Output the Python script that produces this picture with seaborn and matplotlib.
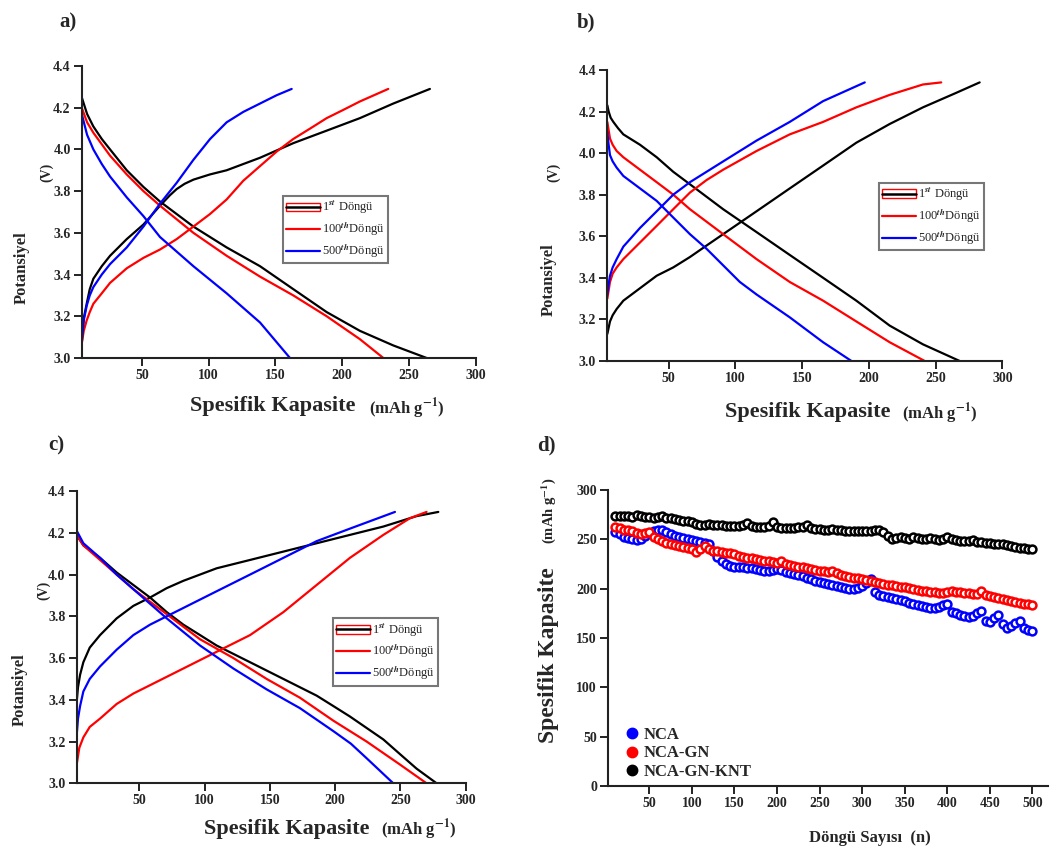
import numpy as np
import pandas as pd
import matplotlib
matplotlib.use("Agg")
import matplotlib.pyplot as plt
from matplotlib.lines import Line2D
from matplotlib.patches import Rectangle
import seaborn as sns

# ---- panel a) capacity / voltage curves ----
a_blk_dis_x = [5, 9, 13.7, 20, 26.2, 38.7, 51.2, 63.6, 88.6, 113.5, 138.5, 163.4, 188.4, 213.3, 238.3, 263.2]
a_blk_dis_y = [4.25, 4.17, 4.11, 4.05, 4.00, 3.90, 3.82, 3.75, 3.63, 3.53, 3.44, 3.33, 3.22, 3.13, 3.06, 3.00]
a_red_dis_x = [5, 9, 13.7, 26.2, 38.7, 51.2, 63.6, 88.6, 113.5, 138.5, 163.4, 188.4, 213.3, 230.8]
a_red_dis_y = [4.20, 4.13, 4.08, 3.97, 3.88, 3.80, 3.73, 3.60, 3.49, 3.39, 3.30, 3.20, 3.09, 3.00]
a_blu_dis_x = [5, 9, 13.7, 20, 26.2, 38.7, 51.2, 63.6, 88.6, 113.5, 138.5, 160.9]
a_blu_dis_y = [4.17, 4.07, 4.00, 3.93, 3.87, 3.77, 3.68, 3.58, 3.44, 3.31, 3.17, 3.00]
a_blk_chg_x = [5, 6.5, 8.7, 11, 13.7, 20, 26.2, 38.7, 51.2, 63.6, 71, 76.1, 82, 88.6, 101, 113.5, 138.5, 163.4, 188.4, 213.3, 238.3, 265.7]
a_blk_chg_y = [3.09, 3.19, 3.26, 3.33, 3.38, 3.44, 3.49, 3.57, 3.64, 3.73, 3.78, 3.81, 3.835, 3.855, 3.88, 3.90, 3.96, 4.03, 4.09, 4.15, 4.22, 4.29]
a_red_chg_x = [5, 6.5, 8.7, 11, 13.7, 20, 26.2, 38.7, 51.2, 63.6, 76.1, 88.6, 101, 113.5, 126, 138.5, 151, 163.4, 176, 188.4, 201, 213.3, 234.5]
a_red_chg_y = [3.07, 3.13, 3.18, 3.22, 3.26, 3.31, 3.36, 3.43, 3.48, 3.52, 3.57, 3.63, 3.69, 3.76, 3.85, 3.92, 3.99, 4.05, 4.10, 4.15, 4.19, 4.23, 4.29]
a_blu_chg_x = [5, 6.5, 8.7, 11, 13.7, 20, 26.2, 38.7, 51.2, 63.6, 76.1, 88.6, 101.1, 113.5, 126, 138.5, 151, 162.2]
a_blu_chg_y = [3.07, 3.18, 3.25, 3.30, 3.34, 3.40, 3.45, 3.53, 3.63, 3.74, 3.84, 3.95, 4.05, 4.13, 4.18, 4.22, 4.26, 4.29]

# ---- panel b) ----
b_blk_dis_x = [4, 5, 6.5, 8.5, 12, 16, 28.5, 41, 53.4, 65.9, 90.8, 115.8, 140.7, 165.7, 190.6, 215.6, 240.5, 268]
b_blk_dis_y = [4.23, 4.20, 4.17, 4.15, 4.12, 4.09, 4.04, 3.98, 3.91, 3.85, 3.73, 3.62, 3.51, 3.40, 3.29, 3.17, 3.08, 3.00]
b_red_dis_x = [4, 5, 6, 8, 11, 16, 28.5, 41, 53.4, 65.9, 90.8, 115.8, 140.7, 165.7, 190.6, 215.6, 241.8]
b_red_dis_y = [4.15, 4.11, 4.07, 4.04, 4.01, 3.98, 3.92, 3.86, 3.80, 3.73, 3.61, 3.49, 3.38, 3.29, 3.19, 3.09, 3.00]
b_blu_dis_x = [4, 5, 6, 8, 11, 16, 28.5, 41, 53.4, 65.9, 78.3, 90.8, 103.3, 115.8, 140.7, 165.7, 186.9]
b_blu_dis_y = [4.10, 4.04, 3.99, 3.96, 3.93, 3.89, 3.83, 3.77, 3.69, 3.61, 3.54, 3.46, 3.38, 3.32, 3.21, 3.09, 3.00]
b_blk_chg_x = [4, 5, 6, 8, 11, 16, 28.5, 41, 53.4, 65.9, 78.3, 90.8, 115.8, 140.7, 165.7, 190.6, 215.6, 240.5, 265.5, 283]
b_blk_chg_y = [3.13, 3.16, 3.19, 3.22, 3.25, 3.29, 3.35, 3.41, 3.45, 3.50, 3.555, 3.61, 3.72, 3.83, 3.94, 4.05, 4.14, 4.22, 4.29, 4.34]
b_red_chg_x = [4, 5, 6, 8, 11, 16, 28.5, 41, 53.4, 65.9, 78.3, 90.8, 115.8, 140.7, 165.7, 190.6, 215.6, 240.5, 254.2]
b_red_chg_y = [3.30, 3.34, 3.38, 3.42, 3.45, 3.49, 3.57, 3.65, 3.73, 3.81, 3.87, 3.92, 4.01, 4.09, 4.15, 4.22, 4.28, 4.33, 4.34]
b_blu_chg_x = [4, 5, 6, 8, 11, 16, 28.5, 41, 53.4, 65.9, 90.8, 115.8, 140.7, 165.7, 196.9]
b_blu_chg_y = [3.32, 3.37, 3.41, 3.45, 3.49, 3.55, 3.64, 3.72, 3.80, 3.86, 3.96, 4.06, 4.15, 4.25, 4.34]

# ---- panel c) ----
c_blk_dis_x = [2, 7.1, 19.9, 32.6, 45.4, 58.2, 71, 83.7, 96.5, 109.2, 134.8, 160.3, 185.8, 198.6, 211.3, 224.1, 236.9, 249.6, 262.4, 277.7]
c_blk_dis_y = [4.19, 4.14, 4.08, 4.01, 3.95, 3.89, 3.82, 3.76, 3.71, 3.66, 3.58, 3.50, 3.42, 3.37, 3.32, 3.265, 3.21, 3.14, 3.07, 3.00]
c_red_dis_x = [2, 7.1, 19.9, 32.6, 45.4, 71, 96.5, 122, 147.5, 173, 198.6, 224.1, 249.6, 270]
c_red_dis_y = [4.19, 4.14, 4.07, 4.00, 3.93, 3.81, 3.69, 3.60, 3.50, 3.41, 3.30, 3.20, 3.09, 3.00]
c_blu_dis_x = [2, 7.1, 19.9, 32.6, 45.4, 71, 96.5, 122, 147.5, 173, 198.6, 212, 224.1, 244.5]
c_blu_dis_y = [4.21, 4.15, 4.08, 4.00, 3.93, 3.79, 3.66, 3.55, 3.45, 3.36, 3.25, 3.19, 3.12, 3.00]
c_blk_chg_x = [2, 3, 4.6, 7.1, 12, 19.9, 32.6, 45.4, 58.2, 71, 83.7, 109.2, 134.8, 160.3, 185.8, 211.3, 236.9, 262.4, 279]
c_blk_chg_y = [3.39, 3.46, 3.52, 3.58, 3.65, 3.71, 3.79, 3.85, 3.89, 3.935, 3.97, 4.03, 4.07, 4.11, 4.15, 4.19, 4.23, 4.28, 4.30]
c_red_chg_x = [2, 4, 7.1, 12, 19.9, 32.6, 45.4, 58.2, 83.7, 109.2, 134.8, 160.3, 185.8, 211.3, 236.9, 257.3, 270]
c_red_chg_y = [3.09, 3.17, 3.22, 3.27, 3.31, 3.38, 3.43, 3.47, 3.55, 3.63, 3.71, 3.82, 3.95, 4.08, 4.19, 4.27, 4.30]
c_blu_chg_x = [2, 3, 4.6, 7.1, 12, 19.9, 32.6, 45.4, 58.2, 83.7, 109.2, 134.8, 160.3, 185.8, 211.3, 245.8]
c_blu_chg_y = [3.23, 3.31, 3.37, 3.44, 3.50, 3.56, 3.64, 3.71, 3.76, 3.84, 3.92, 4.00, 4.08, 4.16, 4.22, 4.30]

cycle_colors = {"1st": "black", "100th": "red", "500th": "blue"}

# ---- panel d) cycling ----
cycles = np.arange(10, 501, 5)
nca = [257, 255, 252, 251, 250, 249, 250, 253, 256, 258,
       259, 260, 257, 255, 253, 252, 251, 250, 249, 248,
       247, 246, 245, 238, 232, 228, 225, 223, 222, 222,
       222, 221, 221, 220, 219, 218, 218, 219, 220, 219,
       217, 216, 215, 214, 213, 211, 210, 208, 207, 206,
       205, 204, 203, 202, 201, 200, 200, 201, 203, 206,
       210, 197, 194, 193, 192, 191, 190, 189, 188, 186,
       184, 183, 182, 181, 180, 180, 181, 183, 185, 176,
       175, 173, 172, 171, 172, 175, 177, 167, 166, 170,
       173, 164, 160, 162, 165, 167, 160, 158, 157]
nca_gn = [263, 262, 260, 259, 258, 256, 255, 256, 257, 252,
          250, 248, 246, 245, 244, 243, 242, 241, 240, 237,
          240, 243, 240, 238, 238, 237, 236, 236, 235, 233,
          232, 231, 231, 230, 229, 228, 228, 227, 226, 228,
          225, 224, 223, 222, 222, 221, 220, 219, 218, 218,
          217, 218, 216, 214, 213, 212, 211, 211, 210, 209,
          208, 207, 206, 205, 204, 204, 203, 202, 202, 201,
          200, 199, 198, 198, 197, 197, 196, 196, 197, 198,
          197, 197, 196, 196, 195, 195, 198, 194, 193, 192,
          191, 190, 189, 188, 187, 186, 185, 184, 183]
nca_gn_knt = [274, 274, 274, 274, 273, 275, 274, 273, 273, 272,
              273, 274, 272, 272, 271, 270, 269, 269, 268, 266,
              265, 265, 266, 265, 265, 265, 264, 264, 264, 264,
              265, 267, 264, 263, 263, 263, 264, 268, 263, 262,
              262, 262, 262, 263, 263, 265, 262, 261, 261, 260,
              259, 261, 259, 259, 258, 258, 258, 258, 258, 258,
              258, 259, 260, 257, 253, 250, 251, 252, 251, 250,
              252, 251, 250, 250, 251, 250, 249, 250, 252, 250,
              249, 248, 248, 248, 249, 247, 247, 246, 246, 245,
              245, 245, 244, 243, 242, 241, 241, 240, 240]

sns.set_style("white")
plt.rcParams["font.family"] = ["Liberation Serif", "DejaVu Serif"]
plt.rcParams["font.weight"] = "bold"
plt.rcParams["mathtext.fontset"] = "stix"

fig = plt.figure(figsize=(10.52, 8.57), dpi=100)


def to_frame(curves):
    rows = []
    for name, branch, xs, ys in curves:
        for xv, yv in zip(xs, ys):
            rows.append({"cap": xv, "volt": yv, "cycle": name, "branch": name + branch})
    return pd.DataFrame(rows)


def style_axes(ax):
    for s in ["top", "right"]:
        ax.spines[s].set_visible(False)
    for s in ["left", "bottom"]:
        ax.spines[s].set_linewidth(1.5)
        ax.spines[s].set_color("#222222")
    ax.tick_params(direction="out", length=6, width=1.4, labelsize=10, color="#222222",
                   left=True, bottom=True, pad=2)
    for lab in ax.get_xticklabels() + ax.get_yticklabels():
        lab.set_fontweight("bold")
    ax.set_xlabel("")
    ax.set_ylabel("")


def voltage_panel(rect, curves, xlim, leg_anchor, ylab_pos, vlab_pos, xlab_pos, unit_pos):
    ax = fig.add_axes(rect)
    df = to_frame(curves)
    sns.lineplot(data=df, x="cap", y="volt", hue="cycle", units="branch", estimator=None,
                 sort=False, palette=cycle_colors, linewidth=1.6, legend=False, ax=ax)
    ax.set_xlim(*xlim)
    ax.set_ylim(3.0, 4.4)
    ax.set_xticks([50, 100, 150, 200, 250, 300])
    ax.set_yticks([3.0, 3.2, 3.4, 3.6, 3.8, 4.0, 4.2, 4.4])
    ax.set_yticklabels(["3.0", "3.2", "3.4", "3.6", "3.8", "4.0", "4.2", "4.4"])
    style_axes(ax)
    h1 = (Rectangle((0, 0), 1, 1, fill=False, edgecolor="red", lw=1.0),
          Line2D([], [], color="black", lw=1.8))
    h2 = Line2D([], [], color="red", lw=1.6)
    h3 = Line2D([], [], color="blue", lw=1.6)
    leg = ax.legend([h1, h2, h3], ["1$^{st}$ Döngü", "100$^{th}$Döngü", "500$^{th}$Döngü"],
                    loc="upper left", bbox_to_anchor=leg_anchor, frameon=True, fancybox=False,
                    prop={"size": 9, "weight": "normal"}, handlelength=2.7, handletextpad=0.2,
                    borderpad=0.25, labelspacing=0.25, borderaxespad=0)
    leg.get_frame().set_edgecolor("#555555")
    leg.get_frame().set_linewidth(1.5)
    ax.text(ylab_pos[0], ylab_pos[1], "Potansiyel", rotation=90, transform=ax.transAxes,
            ha="center", va="center", fontsize=12, fontweight="bold")
    ax.text(vlab_pos[0], vlab_pos[1], "(V)", rotation=90, transform=ax.transAxes,
            ha="center", va="center", fontsize=10, fontweight="bold")
    ax.text(xlab_pos[0], xlab_pos[1], "Spesifik Kapasite", transform=ax.transAxes,
            ha="center", va="center", fontsize=16, fontweight="bold")
    ax.text(unit_pos[0], unit_pos[1], "(mAh g$^{-1}$)", transform=ax.transAxes,
            ha="center", va="center", fontsize=12, fontweight="bold")
    return ax


voltage_panel([0.0777, 0.5823, 0.3745, 0.3407],
              [("1st", "d", a_blk_dis_x, a_blk_dis_y), ("1st", "c", a_blk_chg_x, a_blk_chg_y),
               ("100th", "d", a_red_dis_x, a_red_dis_y), ("100th", "c", a_red_chg_x, a_red_chg_y),
               ("500th", "d", a_blu_dis_x, a_blu_dis_y), ("500th", "c", a_blu_chg_x, a_blu_chg_y)],
              (5, 300), (0.511, 0.555), (-0.152, 0.308), (-0.088, 0.637), (0.486, -0.164), (0.826, -0.175))

voltage_panel([0.5773, 0.5788, 0.3755, 0.3396],
              [("1st", "d", b_blk_dis_x, b_blk_dis_y), ("1st", "c", b_blk_chg_x, b_blk_chg_y),
               ("100th", "d", b_red_dis_x, b_red_dis_y), ("100th", "c", b_red_chg_x, b_red_chg_y),
               ("500th", "d", b_blu_dis_x, b_blu_dis_y), ("500th", "c", b_blu_chg_x, b_blu_chg_y)],
              (4, 300), (0.687, 0.613), (-0.148, 0.278), (-0.137, 0.649), (0.508, -0.175), (0.842, -0.18))

voltage_panel([0.0729, 0.0860, 0.3698, 0.3410],
              [("1st", "d", c_blk_dis_x, c_blk_dis_y), ("1st", "c", c_blk_chg_x, c_blk_chg_y),
               ("100th", "d", c_red_dis_x, c_red_dis_y), ("100th", "c", c_red_chg_x, c_red_chg_y),
               ("500th", "d", c_blu_dis_x, c_blu_dis_y), ("500th", "c", c_blu_chg_x, c_blu_chg_y)],
              (2, 300), (0.659, 0.5655), (-0.146, 0.319), (-0.084, 0.661), (0.541, -0.156), (0.880, -0.16))

# ---- panel d ----
axd = fig.add_axes([0.578, 0.0828, 0.418, 0.3454])
for vals, col in [(nca, "blue"), (nca_gn, "red"), (nca_gn_knt, "black")]:
    sns.scatterplot(x=cycles, y=vals, color="white", edgecolor=col, linewidth=1.8, s=32,
                    marker="o", ax=axd, zorder=3)
axd.set_xlim(1.5, 518)
axd.set_ylim(0, 300)
axd.set_xticks([50, 100, 150, 200, 250, 300, 350, 400, 450, 500])
axd.set_yticks([0, 50, 100, 150, 200, 250, 300])
style_axes(axd)
handles = [Line2D([], [], marker="o", ls="", color=c, markersize=7.5) for c in ["blue", "red", "black"]]
axd.legend(handles, ["NCA", "NCA-GN", "NCA-GN-KNT"], loc="lower left", bbox_to_anchor=(0.02, -0.002),
           frameon=False, prop={"size": 12, "weight": "bold"}, handletextpad=0.2,
           labelspacing=0.15, handlelength=1.0, borderaxespad=0)
axd.text(-0.136, 0.443, "Spesifik Kapasite", rotation=90, transform=axd.transAxes,
         ha="center", va="center", fontsize=17, fontweight="bold")
axd.text(-0.136, 0.932, "(mAh g$^{-1}$)", rotation=90, transform=axd.transAxes,
         ha="center", va="center", fontsize=10.5, fontweight="bold")
axd.text(0.595, -0.176, "Döngü Sayısı  (n)", transform=axd.transAxes,
         ha="center", va="center", fontsize=12, fontweight="bold")

for lab, (px, py) in {"a)": (68, 22), "b)": (586, 22), "c)": (56, 445), "d)": (546, 445)}.items():
    fig.text(px / 1052, 1 - py / 857, lab, ha="center", va="center", fontsize=15, fontweight="bold")

fig.savefig("out.png", dpi=100)
